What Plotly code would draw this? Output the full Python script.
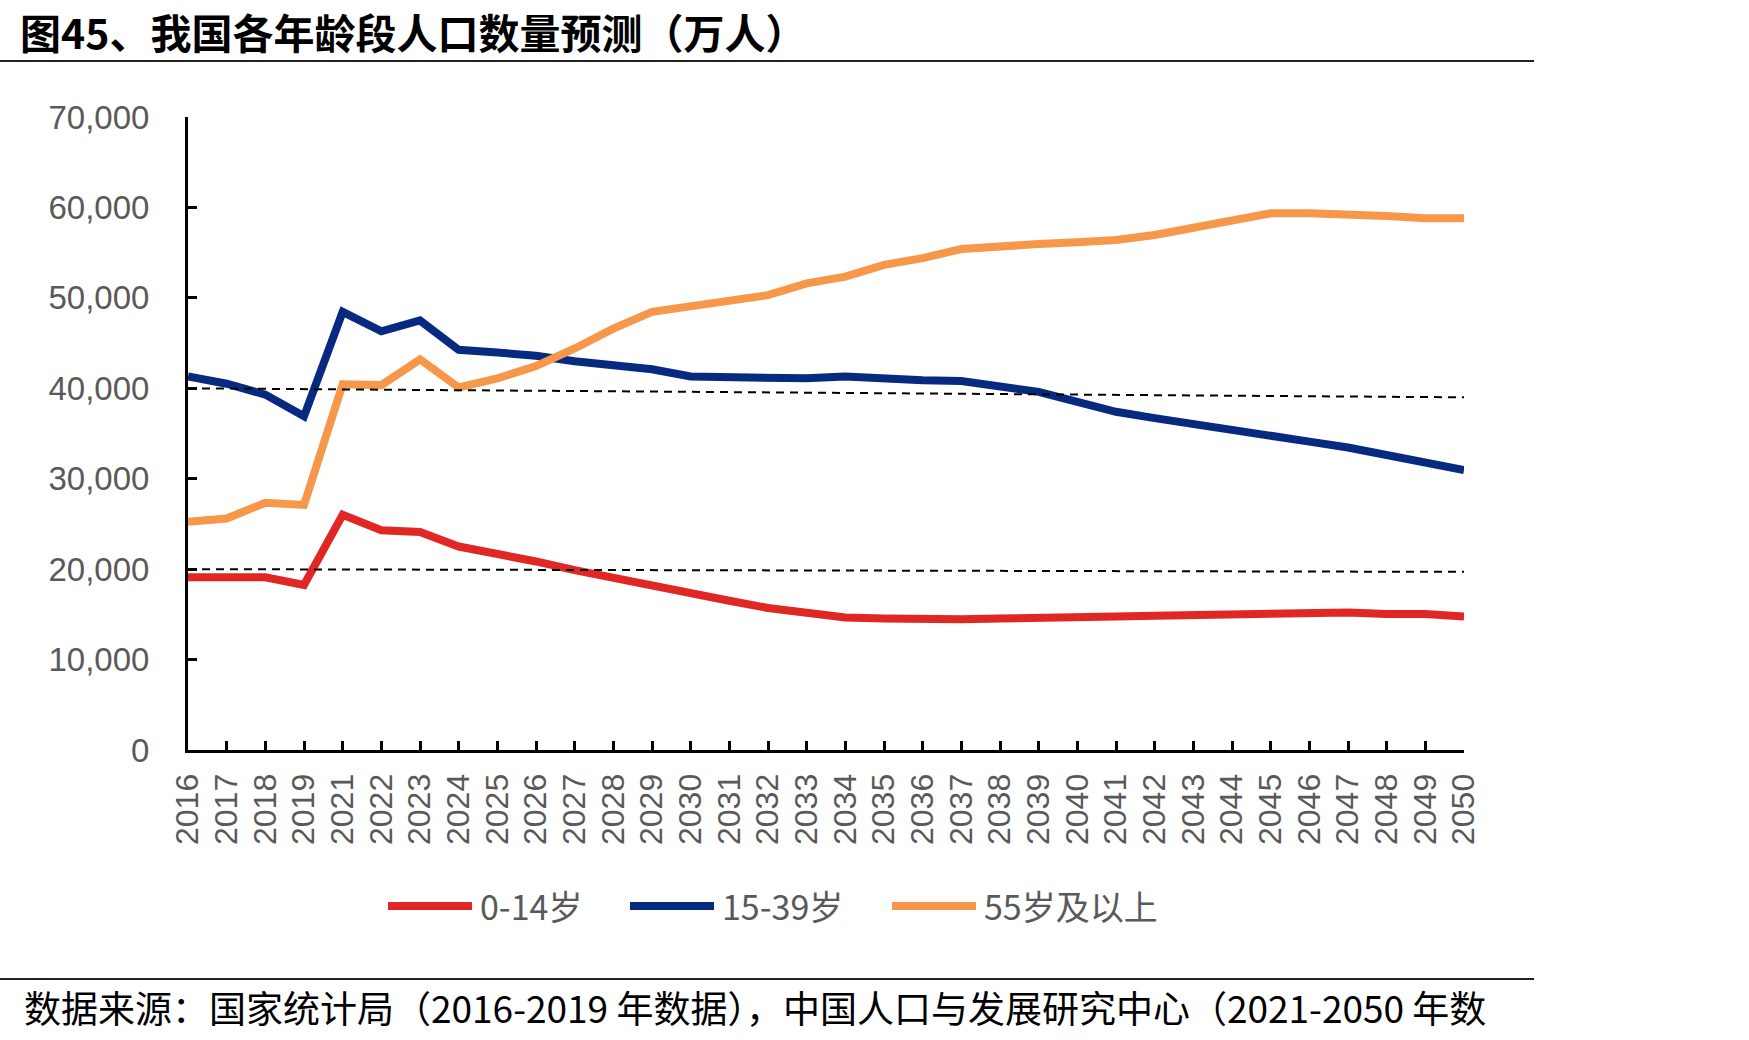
import plotly.graph_objects as go

# ---------------- data ----------------
years = ["2016", "2017", "2018", "2019"] + [str(y) for y in range(2021, 2051)]

age_0_14 = [19100, 19100, 19100, 18250, 26000, 24300, 24100, 22500, 21750, 20850,
            19900, 19000, 18150, 17350, 16500, 15700, 15100, 14650, 14550, 14450,
            14450, 14550, 14550, 14650, 14750, 14850, 14950, 15100, 15200, 15200,
            15200, 15050, 15050, 14750]

age_15_39 = [41300, 40500, 39300, 36900, 48450, 46300, 47500, 44250, 43950, 43600,
             43000, 42550, 42100, 41300, 41200, 41300, 41100, 41300, 41000, 40900,
             40800, 40300, 39600, 38500, 37400, 36700, 36000, 35300, 34700, 34100,
             33450, 32600, 31750, 30950]

age_55_plus = [25250, 25600, 27350, 27100, 40450, 40350, 43200, 40100, 41100, 42450,
               44400, 46600, 48450, 49050, 49700, 50300, 51600, 52350, 53650, 54400,
               55400, 55750, 55950, 56150, 56400, 56950, 57700, 58600, 59350, 59350,
               59250, 59050, 58800, 58800]

ref_x = ["2016", "2050"]
ref_upper = [40000, 39000]
ref_lower = [20000, 19700]

series_names = ["0-14岁", "15-39岁", "55岁及以上"]
series_colors = ["#E02724", "#062A80", "#F7974A"]

title_text = "图45、我国各年龄段人口数量预测（万人）"
source_text = "数据来源：国家统计局（2016-2019 年数据），中国人口与发展研究中心（2021-2050 年数"

# ---------------- layout helpers ----------------
W, H = 1749, 1040
L, R, T, B = 188, 285, 117, 290
PW, PH = W - L - R, H - T - B


def px(x):
    return (x - L) / PW


def py(y):
    return (H - B - y) / PH


CJK = "Noto Sans CJK SC"
TICK_FONT = "Liberation Sans, Arial, sans-serif"
GREY = "#595959"

fig = go.Figure()

for name, vals, col in zip(series_names, [age_0_14, age_15_39, age_55_plus], series_colors):
    fig.add_trace(go.Scatter(x=years, y=vals, mode="lines", name=name,
                             line=dict(color=col, width=8), showlegend=False))

for ref in (ref_upper, ref_lower):
    fig.add_trace(go.Scatter(x=ref_x, y=ref, mode="lines", showlegend=False,
                             line=dict(color="black", width=2, dash="8px,6px")))

shapes = [
    dict(type="line", xref="paper", yref="paper", x0=px(0), x1=px(1534),
         y0=py(61), y1=py(61), line=dict(color="#222222", width=2)),
    dict(type="line", xref="paper", yref="paper", x0=px(0), x1=px(1534),
         y0=py(979), y1=py(979), line=dict(color="#222222", width=2)),
]
annotations = [
    dict(text=title_text, xref="paper", yref="paper", x=px(18), y=py(31),
         xanchor="left", yanchor="middle", showarrow=False,
         font=dict(family=CJK, size=41, color="black", weight="bold")),
    dict(text=source_text, xref="paper", yref="paper", x=px(22), y=py(1007),
         xanchor="left", yanchor="middle", showarrow=False,
         font=dict(family=CJK, size=37, color="black")),
]

# manual legend (long line samples)
legend_x = [388, 630, 892]
for lx, name, col in zip(legend_x, series_names, series_colors):
    shapes.append(dict(type="line", xref="paper", yref="paper",
                       x0=px(lx), x1=px(lx + 84), y0=py(906), y1=py(906),
                       line=dict(color=col, width=8)))
    annotations.append(dict(text=name, xref="paper", yref="paper", x=px(lx + 90), y=py(906),
                            xanchor="left", yanchor="middle", showarrow=False,
                            font=dict(family=CJK, size=34, color=GREY)))

fig.update_layout(
    width=W, height=H,
    margin=dict(l=L, r=R, t=T, b=B, pad=0),
    paper_bgcolor="white", plot_bgcolor="white",
    showlegend=False,
    shapes=shapes, annotations=annotations,
    xaxis=dict(type="category", categoryorder="array", categoryarray=years,
               range=[0, len(years) - 1], showgrid=False, zeroline=False,
               showline=True, linecolor="black", linewidth=3,
               ticks="inside", ticklen=9, tickwidth=2.5, tickcolor="black",
               tickangle=-90, ticklabelstandoff=8,
               tickfont=dict(family=TICK_FONT, size=32, color=GREY)),
    yaxis=dict(range=[0, 70000], dtick=10000, tickformat=",", showgrid=False,
               zeroline=False, showline=True, linecolor="black", linewidth=3,
               ticks="inside", ticklen=9, tickwidth=2.5, tickcolor="black",
               ticklabelstandoff=29,
               tickfont=dict(family=TICK_FONT, size=33, color=GREY)),
)

fig.write_html("out.html")
